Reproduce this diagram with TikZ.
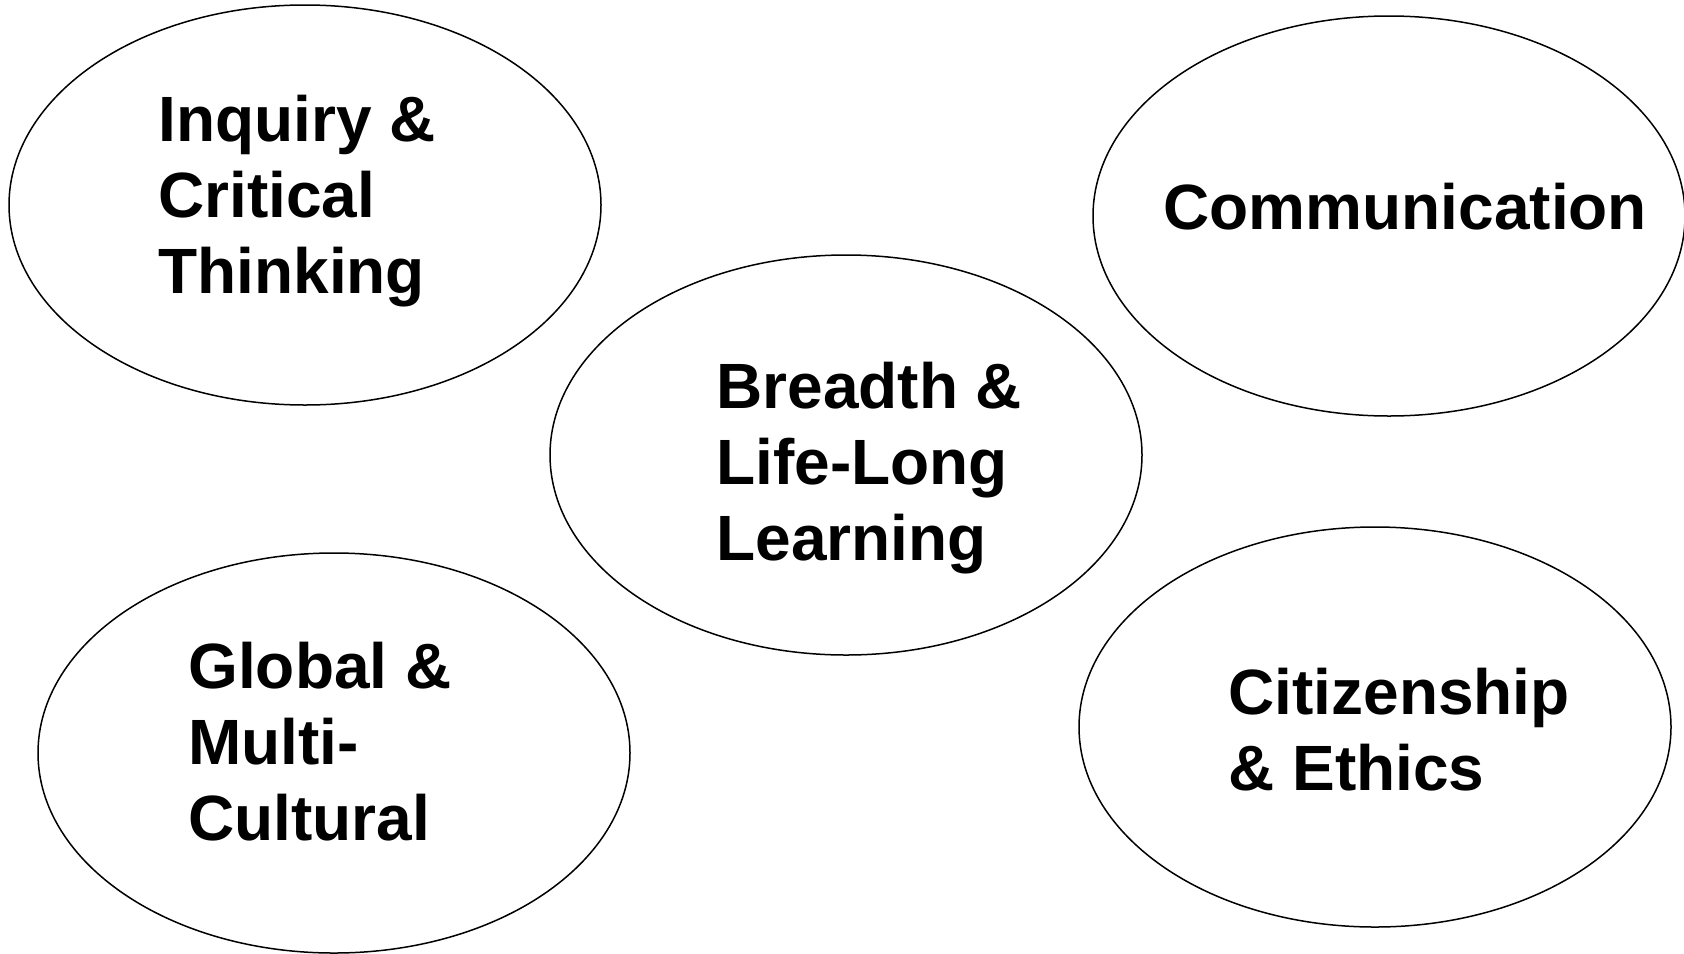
\documentclass[tikz,border=0pt]{standalone}
\usepackage{fontspec}
\setmainfont{Liberation Sans}
\usetikzlibrary{shapes.geometric}

\tikzset{
	blob/.style = {draw, ellipse, line width=0.75pt, inner sep=0pt,
		minimum width=296pt, minimum height=200pt},
	word/.style = {anchor=north west, inner sep=0pt, align=left,
		font=\fontsize{32}{38}\selectfont\bfseries}
}

\begin{document}
\begin{tikzpicture}[x=0.5pt, y=-0.5pt]
				%\draw[help lines] (0,0) grid (1684,953);
				\useasboundingbox (0,0) rectangle (1684,953);
				
				\node[blob] (inquiry) at (305,205) {};
				\node[blob] (comm)    at (1389,216) {};
				\node[blob] (breadth) at (846,455) {};
				\node[blob] (global)  at (334,753) {};
				\node[blob] (citizen) at (1375,727) {};
				
				\node[word] (inquiryText) at (158,95)  {Inquiry \&\\Critical\\Thinking};
				\node[word] (commText)    at (1163,183) {Communication};
				\node[word] (breadthText) at (716,362) {Breadth \&\\Life-Long\\Learning};
				\node[word] (globalText)  at (188,642) {Global \&\\Multi-\\Cultural};
				\node[word] (citizenText) at (1228,668) {Citizenship\\\& Ethics};
\end{tikzpicture}
\end{document}
